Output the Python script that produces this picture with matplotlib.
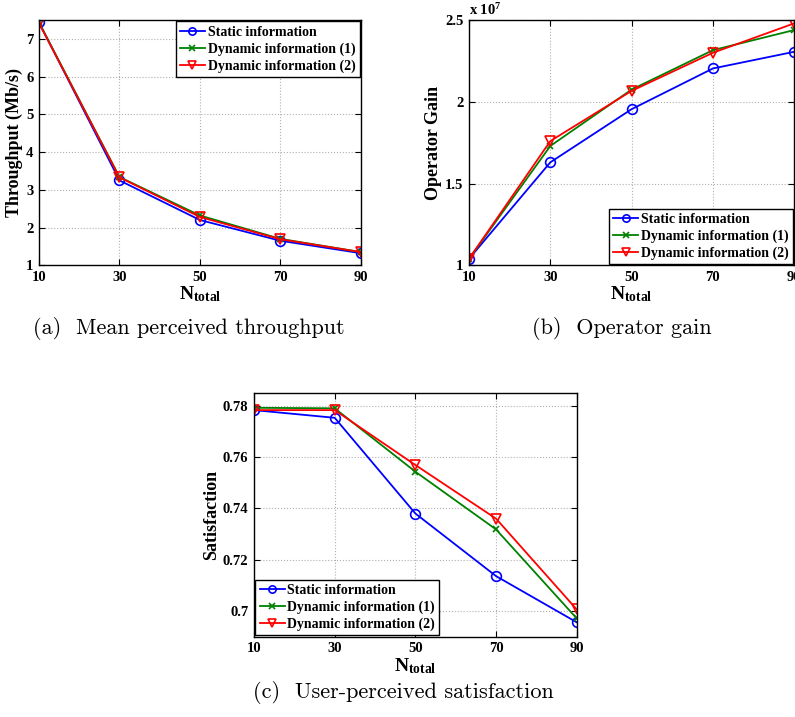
import matplotlib
matplotlib.use("Agg")
import matplotlib.pyplot as plt

plt.rcParams['font.family'] = ['Liberation Serif', 'DejaVu Serif']
plt.rcParams['mathtext.fontset'] = 'custom'
plt.rcParams['mathtext.rm'] = 'Liberation Serif'
plt.rcParams['mathtext.bf'] = 'Liberation Serif:bold'
plt.rcParams['mathtext.it'] = 'Liberation Serif:italic'

n_total = [10, 30, 50, 70, 90]
series_names = ["Static information", "Dynamic information (1)", "Dynamic information (2)"]

throughput_static = [7.44, 3.25, 2.20, 1.65, 1.32]
throughput_dyn1 = [7.44, 3.34, 2.32, 1.70, 1.35]
throughput_dyn2 = [7.42, 3.33, 2.28, 1.69, 1.35]

gain_static = [1.04, 1.63, 1.955, 2.204, 2.306]
gain_dyn1 = [1.04, 1.73, 2.075, 2.316, 2.439]
gain_dyn2 = [1.04, 1.76, 2.067, 2.30, 2.48]

sat_static = [0.7783, 0.7753, 0.7380, 0.7136, 0.6956]
sat_dyn1 = [0.7792, 0.7790, 0.7543, 0.7318, 0.6971]
sat_dyn2 = [0.7783, 0.7783, 0.7569, 0.7360, 0.7006]

colors = ['#0000ff', '#008000', '#ff0000']
markers = ['o', 'x', 'v']

fig = plt.figure(figsize=(7.95, 7.17), dpi=100)

def style(ax, ylabel, yticks, ylim, yticklabels):
    ax.set_xlim(10, 90)
    ax.set_xticks(n_total)
    ax.set_xticklabels([str(v) for v in n_total], fontweight='bold', fontsize=10.5)
    ax.set_ylim(*ylim)
    ax.set_yticks(yticks)
    ax.set_yticklabels(yticklabels, fontweight='bold', fontsize=10.5)
    ax.tick_params(direction='in', top=True, right=True, length=4, width=0.8, pad=4)
    ax.grid(True, linestyle=':', color='#b0b0b0', linewidth=0.8)
    ax.set_ylabel(ylabel, fontweight='bold', fontsize=13, labelpad=2)
    ax.set_xlabel(r'$\mathbf{N}_{\mathbf{total}}$', fontsize=14, labelpad=0.5)
    for s in ax.spines.values():
        s.set_linewidth(1.0)

def plot_series(ax, ys):
    for y, c, m, name in zip(ys, colors, markers, series_names):
        ax.plot(n_total, y, color=c, marker=m, markerfacecolor='none',
                markeredgecolor=c, markersize=7 if m != 'x' else 5,
                linewidth=1.3, markeredgewidth=1.2, label=name)

def legend(ax, loc):
    lg = ax.legend(loc=loc, prop={'weight': 'bold', 'size': 10}, frameon=True,
                   fancybox=False, edgecolor='black', framealpha=1,
                   borderaxespad=0.1, handlelength=1.8, handletextpad=0.2,
                   labelspacing=0.25, borderpad=0.3, markerscale=0.75)
    lg.get_frame().set_linewidth(1.0)

# (a)
ax1 = fig.add_axes([0.049, 0.630, 0.405, 0.342])
plot_series(ax1, [throughput_static, throughput_dyn1, throughput_dyn2])
style(ax1, 'Throughput (Mb/s)', [1, 2, 3, 4, 5, 6, 7], (1, 7.5), ['1', '2', '3', '4', '5', '6', '7'])
legend(ax1, 'upper right')

# (b)
ax2 = fig.add_axes([0.590, 0.630, 0.409, 0.342])
plot_series(ax2, [gain_static, gain_dyn1, gain_dyn2])
style(ax2, 'Operator Gain', [1, 1.5, 2, 2.5], (1, 2.5), ['1', '1.5', '2', '2.5'])
ax2.text(0.0, 1.01, r'x 10$^{\mathbf{7}}$', transform=ax2.transAxes, fontsize=10.5,
         fontweight='bold', ha='left', va='bottom')
legend(ax2, 'lower right')

# (c)
ax3 = fig.add_axes([0.3195, 0.112, 0.406, 0.340])
plot_series(ax3, [sat_static, sat_dyn1, sat_dyn2])
style(ax3, 'Satisfaction', [0.70, 0.72, 0.74, 0.76, 0.78], (0.69, 0.785), ['0.7', '0.72', '0.74', '0.76', '0.78'])
legend(ax3, 'lower left')

cap_font = dict(family=['cmr10', 'DejaVu Serif'], fontsize=16, ha='center', va='center')
fig.text(189 / 795, 1 - 328 / 717, '(a)  Mean perceived throughput', **cap_font)
fig.text(622 / 795, 1 - 328 / 717, '(b)  Operator gain', **cap_font)
fig.text(403 / 795, 1 - 693 / 717, '(c)  User-perceived satisfaction', **cap_font)

fig.savefig('out.png', dpi=100)
